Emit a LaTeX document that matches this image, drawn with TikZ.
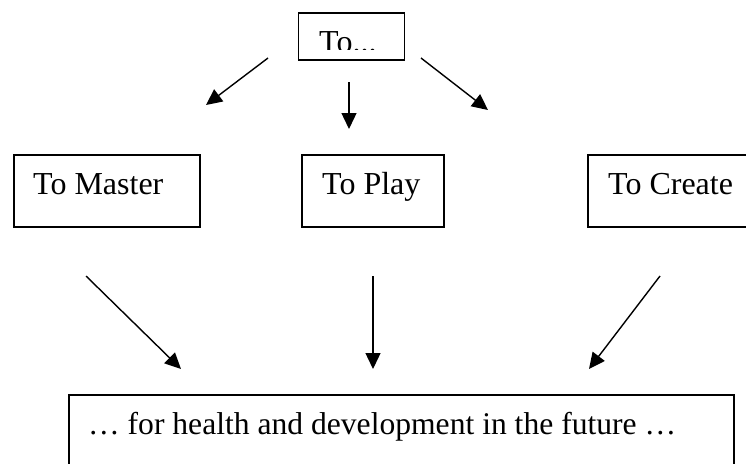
\documentclass[tikz,border=0pt]{standalone}
\usepackage{fontspec}
\setmainfont{Liberation Serif}
\usetikzlibrary{arrows.meta}
\begin{document}
\begin{tikzpicture}[x=1pt,y=-1pt,
  box/.style={draw,line width=1.8pt,inner sep=0pt,anchor=north west},
  lbl/.style={inner sep=0pt,anchor=base west,font=\fontsize{32}{38}\selectfont},
  arr/.style={line width=1.4pt,-{Triangle[length=16pt,width=15pt]}}]
\clip (0,0) rectangle (746,463);
\fill[white] (0,0) rectangle (746,463);
% top box
\node[box,minimum width=106pt,minimum height=47pt] (top) at (297.5,12) {};
\begin{scope}
\clip (299,13) rectangle (402,49.5);
\node[lbl] (toptext) at (319,52) {To...};
\end{scope}
% middle row
\node[box,minimum width=186pt,minimum height=72pt] (master) at (13,154) {};
\node[lbl] (mastertext) at (33,194) {To Master};
\node[box,minimum width=142pt,minimum height=72pt] (play) at (301,154) {};
\node[lbl] (playtext) at (322,194) {To Play};
\node[box,minimum width=180pt,minimum height=72pt] (create) at (587,154) {};
\node[lbl] (createtext) at (608,194) {To Create};
% bottom box
\node[box,minimum width=665pt,minimum height=90pt] (bottom) at (68,394) {};
\node[lbl,font=\fontsize{31.6}{38}\selectfont] (bottomtext) at (88,434) {… for health and development in the future …};
% arrow ends
\coordinate (a1s) at (268,58);  \coordinate (a1e) at (206,105);
\coordinate (a2s) at (349,82);  \coordinate (a2e) at (349,129);
\coordinate (a3s) at (421,58);  \coordinate (a3e) at (488,110);
\coordinate (b1s) at (86,276);  \coordinate (b1e) at (181,369);
\coordinate (b2s) at (373,276); \coordinate (b2e) at (373,369);
\coordinate (b3s) at (660,276); \coordinate (b3e) at (589,369);
\draw[arr] (a1s) -- (a1e);
\draw[arr] (a2s) -- (a2e);
\draw[arr] (a3s) -- (a3e);
\draw[arr] (b1s) -- (b1e);
\draw[arr] (b2s) -- (b2e);
\draw[arr] (b3s) -- (b3e);
\end{tikzpicture}
\end{document}
